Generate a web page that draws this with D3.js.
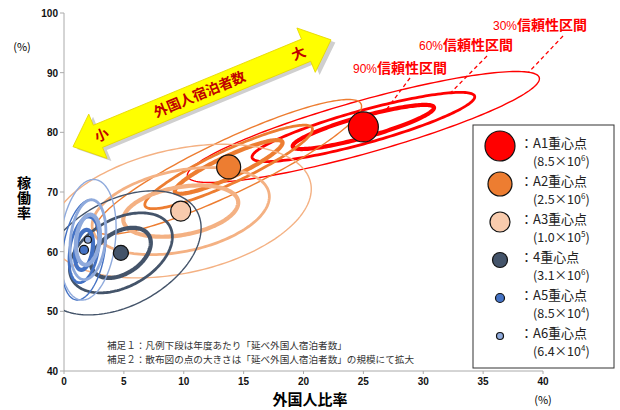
<!DOCTYPE html>
<html>
<head>
<meta charset="utf-8">
<script src="https://cdn.jsdelivr.net/npm/d3@7"></script>
<style>
  body { margin: 0; background: #fff; }
  svg { font-family: "Noto Sans CJK JP", "Noto Sans", sans-serif; }
</style>
</head>
<body>
<svg id="chart" width="620" height="410"></svg>
<script>

// groups of hotels and their centroids (foreign guest ratio %, occupancy %)
const groups = ["A1", "A2", "A3", "4", "A5", "A6"];
const centerX = [25.0, 13.75, 9.75, 4.75, 1.67, 2.0];
const centerY = [80.9, 74.2, 66.8, 59.8, 60.3, 62.0];

// yearly foreign guest nights, written as mantissa x 10^exp
const guestMant = ["8.5", "2.5", "1.0", "3.1", "8.5", "6.4"];
const guestExp = ["6", "6", "5", "6", "4", "4"];

// confidence ellipses: half spread in x and y (%), inner -> outer ring, and correlation
const ringSx = [
  [5.9, 9.3, 14.7],
  [4.5, 7.0, 11.1],
  [4.8, 7.4, 10.9],
  [2.5, 4.3, 6.7],
  [0.75, 1.25, 1.85],
  [1.0, 1.5, 2.35]
];
const ringSy = [
  [3.7, 5.8, 9.3],
  [4.5, 7.0, 11.3],
  [4.3, 7.3, 11.2],
  [4.2, 6.7, 10.4],
  [3.35, 5.5, 8.4],
  [4.2, 6.7, 10.1]
];
const ringRho = [0.87, 0.9, 0.33, 0.4, 0.3, 0.2];

// labels of the rings as the chart annotates them (inner -> outer)
const ringLabels = ["90%信頼性区間", "60%信頼性区間", "30%信頼性区間"];

const xTicks = [0, 5, 10, 15, 20, 25, 30, 35, 40];
const yTicks = [40, 50, 60, 70, 80, 90, 100];

const notes = [
  "補足１：凡例下段は年度あたり「延べ外国人宿泊者数」",
  "補足２：散布図の点の大きさは「延べ外国人宿泊者数」の規模にて拡大"
];

// ---- styles ----
const lineColor = ["#FF0000", "#ED7D31", "#F4B183", "#44546A", "#4472C4", "#8FAADC"];
const dotColor = ["#FF0000", "#ED7D31", "#F8CBAD", "#44546A", "#4472C4", "#8FAADC"];
const dotRadius = [15, 12, 10, 7.5, 4.5, 3.5];
const ringWidth = [4.2, 2.8, 1.4];

const svg = d3.select("#chart");

const x = d3.scaleLinear().domain([0, 40]).range([64, 543]);
const y = d3.scaleLinear().domain([40, 100]).range([371, 13]);

// clip for the plot area
svg.append("defs").append("clipPath").attr("id", "plot")
  .append("rect")
  .attr("x", x(0)).attr("y", y(100))
  .attr("width", x(40) - x(0)).attr("height", y(40) - y(100));

// axes
const axisColor = "#aaa";
svg.append("line")
  .attr("x1", x(0)).attr("x2", x(0)).attr("y1", y(100)).attr("y2", y(40))
  .attr("stroke", axisColor);
svg.append("line")
  .attr("x1", x(0)).attr("x2", x(40)).attr("y1", y(40)).attr("y2", y(40))
  .attr("stroke", axisColor);

svg.selectAll(".ytick").data(yTicks).enter().append("line")
  .attr("x1", x(0) - 4).attr("x2", x(0))
  .attr("y1", d => y(d)).attr("y2", d => y(d))
  .attr("stroke", axisColor);
svg.selectAll(".xtick").data(xTicks).enter().append("line")
  .attr("x1", d => x(d)).attr("x2", d => x(d))
  .attr("y1", y(40)).attr("y2", y(40) + 3)
  .attr("stroke", axisColor);

svg.selectAll(".ylab").data(yTicks).enter().append("text")
  .attr("x", x(0) - 6).attr("y", d => y(d) + 4)
  .attr("text-anchor", "end")
  .style("font", "bold 10px 'Liberation Sans', Arial, sans-serif")
  .attr("fill", "#111")
  .text(d => d);
svg.selectAll(".xlab").data(xTicks).enter().append("text")
  .attr("x", d => x(d)).attr("y", y(40) + 14)
  .attr("text-anchor", "middle")
  .style("font", "bold 10px 'Liberation Sans', Arial, sans-serif")
  .attr("fill", "#111")
  .text(d => d);

// axis titles
svg.append("text")
  .attr("x", 310).attr("y", 405)
  .attr("text-anchor", "middle")
  .style("font-size", "15px").style("font-weight", "bold")
  .text("外国人比率");
svg.append("text")
  .attr("x", 543).attr("y", 404)
  .attr("text-anchor", "middle")
  .style("font-size", "11px")
  .text("(%)");
svg.append("text")
  .attr("x", 22).attr("y", 51)
  .attr("text-anchor", "middle")
  .style("font-size", "11px")
  .text("(%)");
svg.append("text")
  .attr("x", 24).attr("y", 198)
  .attr("writing-mode", "vertical-rl")
  .attr("text-anchor", "middle")
  .style("font-size", "14px").style("font-weight", "bold")
  .style("letter-spacing", "1px")
  .text("稼働率");

// ellipse path through the scales
const angles = d3.range(0, 2 * Math.PI, Math.PI / 90);
function ellipsePoint(g, r, t) {
  const rho = ringRho[g];
  const ex = centerX[g] + ringSx[g][r] * Math.cos(t);
  const ey = centerY[g] + ringSy[g][r] * (rho * Math.cos(t) + Math.sqrt(1 - rho * rho) * Math.sin(t));
  return [x(ex), y(ey)];
}
const ellipseLine = d3.line().curve(d3.curveLinearClosed);

const rings = [];
groups.forEach((g, gi) => {
  [2, 1, 0].forEach(ri => rings.push({ g: gi, r: ri }));
});

svg.append("g").attr("clip-path", "url(#plot)")
  .selectAll("path").data(rings).enter().append("path")
  .attr("d", d => ellipseLine(angles.map(t => ellipsePoint(d.g, d.r, t))))
  .attr("fill", "none")
  .attr("stroke", d => lineColor[d.g])
  .attr("stroke-width", d => ringWidth[d.r]);

// centroids
svg.append("g").selectAll("circle").data(groups).enter().append("circle")
  .attr("cx", (d, i) => x(centerX[i]))
  .attr("cy", (d, i) => y(centerY[i]))
  .attr("r", (d, i) => dotRadius[i])
  .attr("fill", (d, i) => dotColor[i])
  .attr("stroke", "#111")
  .attr("stroke-width", 1.2);

// double arrow: guest nights small -> large
const tipA = [x(0.75), y(77.6)];
const tipB = [x(22.3), y(95.5)];
const arrowLen = Math.hypot(tipB[0] - tipA[0], tipB[1] - tipA[1]);
const arrowAng = Math.atan2(tipB[1] - tipA[1], tipB[0] - tipA[0]) * 180 / Math.PI;
const hl = 27, hw = 24, bw = 12;
const arrowPts = [
  [0, 0], [hl, -hw], [hl, -bw], [arrowLen - hl, -bw], [arrowLen - hl, -hw],
  [arrowLen, 0], [arrowLen - hl, hw], [arrowLen - hl, bw], [hl, bw], [hl, hw]
];
const arrow = svg.append("g")
  .attr("transform", `translate(${tipA[0]},${tipA[1]}) rotate(${arrowAng})`);
arrow.append("polygon")
  .attr("points", arrowPts.map(p => p.join(",")).join(" "))
  .attr("transform", "translate(3,4)")
  .attr("fill", "#cfcfcf");
arrow.append("polygon")
  .attr("points", arrowPts.map(p => p.join(",")).join(" "))
  .attr("fill", "#FFFF00")
  .attr("stroke", "#e6d800")
  .attr("stroke-width", 0.8);
[["小", 31], ["外国人宿泊者数", 137], ["大", 244]].forEach(([t, pos]) => {
  arrow.append("text")
    .attr("x", pos).attr("y", 0)
    .attr("dy", "0.36em")
    .attr("text-anchor", "middle")
    .style("font-size", "14px").style("font-weight", "bold")
    .attr("fill", "#C00000")
    .text(t);
});

// ring annotations with dashed leaders
const annPos = [[353, 73, 410, 78, 1.25], [419, 50, 487, 56, 0.67], [493, 30, 563, 36, 0.35]];
ringLabels.forEach((lab, i) => {
  const [tx, ty, lx, ly, t] = annPos[i];
  const end = ellipsePoint(0, i, t);
  svg.append("line")
    .attr("x1", lx).attr("y1", ly).attr("x2", end[0]).attr("y2", end[1])
    .attr("stroke", "#FF0000").attr("stroke-width", 1.3)
    .attr("stroke-dasharray", "4,3");
  const tt = svg.append("text")
    .attr("x", tx).attr("y", ty)
    .attr("fill", "#FF0000");
  tt.append("tspan").style("font", "12px 'Liberation Sans', Arial, sans-serif").text(lab.slice(0, 3));
  tt.append("tspan").style("font-size", "14px").style("font-weight", "bold").text(lab.slice(3));
});

// notes
svg.selectAll(".note").data(notes).enter().append("text")
  .attr("x", 107).attr("y", (d, i) => 349 + i * 14)
  .style("font-size", "9.6px")
  .attr("fill", "#333")
  .text(d => d);

// legend
const legend = svg.append("g");
legend.append("rect")
  .attr("x", 473).attr("y", 125).attr("width", 141).attr("height", 243)
  .attr("fill", "#fff").attr("stroke", "#333").attr("stroke-width", 1);
groups.forEach((g, i) => {
  const cy = 143 + i * 38;
  legend.append("circle")
    .attr("cx", 500).attr("cy", cy + 3)
    .attr("r", dotRadius[i])
    .attr("fill", dotColor[i])
    .attr("stroke", "#111").attr("stroke-width", 1.2);
  legend.append("text")
    .attr("x", 520).attr("y", cy + 5)
    .style("font-size", "13px")
    .attr("fill", "#222")
    .text("：" + g + "重心点");
  const t2 = legend.append("text")
    .attr("x", 533).attr("y", cy + 23)
    .style("font-size", "12.5px")
    .attr("fill", "#222");
  t2.append("tspan").text("(" + guestMant[i] + "×10");
  t2.append("tspan").attr("dy", -5).style("font-size", "8px").text(guestExp[i]);
  t2.append("tspan").attr("dy", 5).text(")");
});

</script>
</body>
</html>
